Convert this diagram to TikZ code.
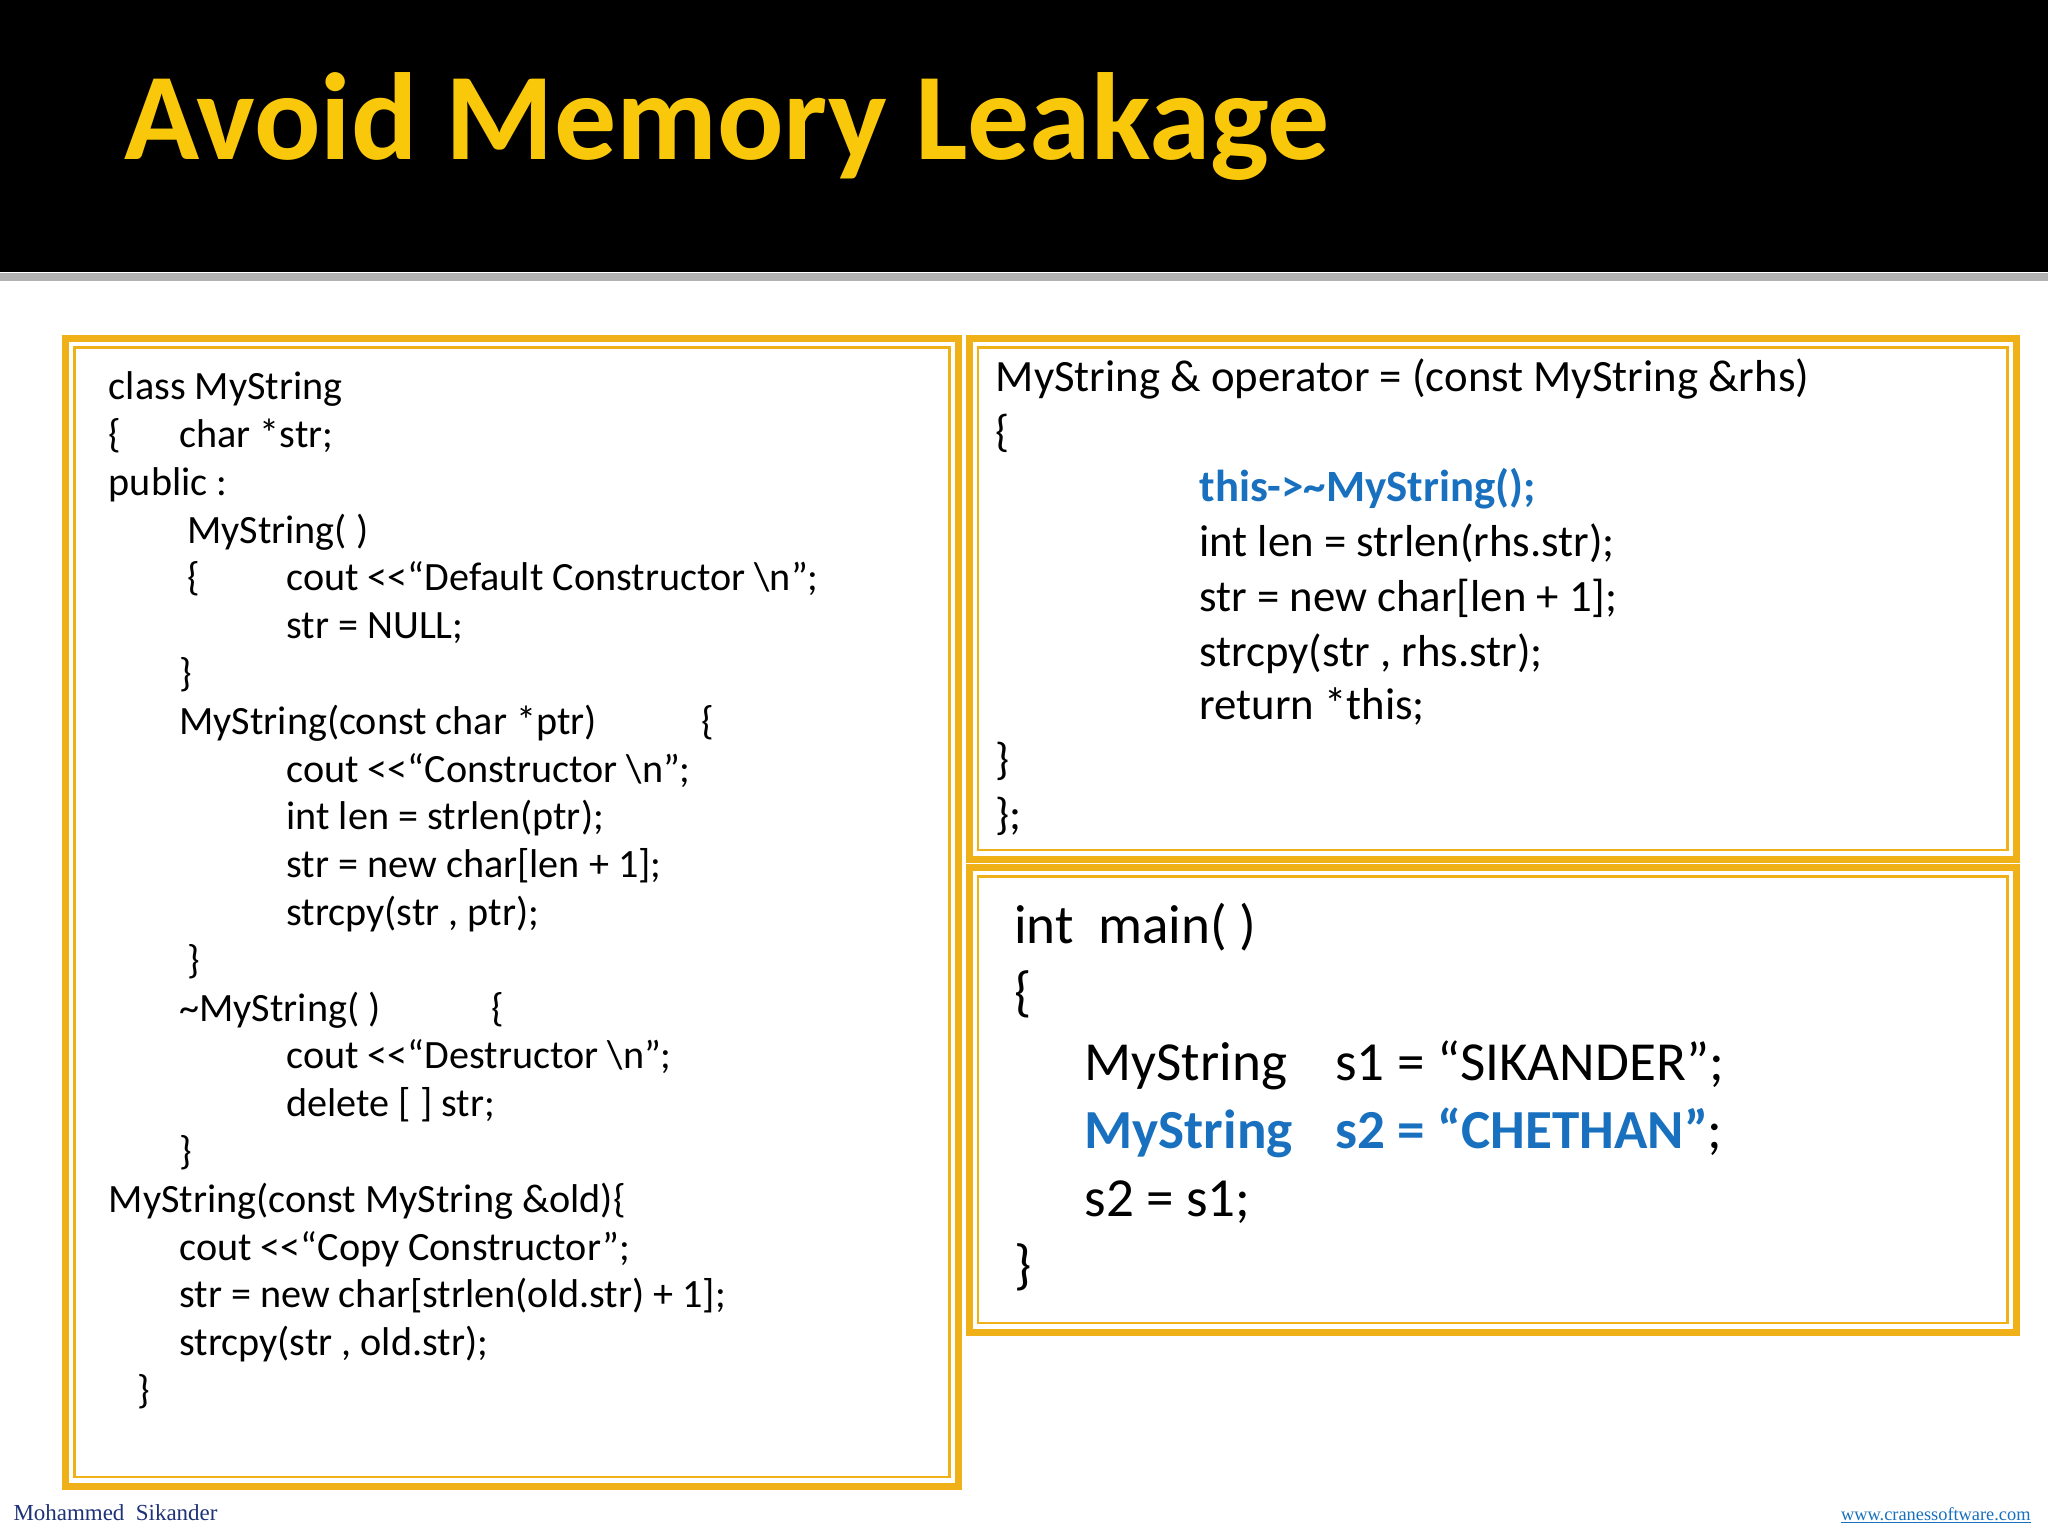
\documentclass[tikz,border=0pt]{standalone}
\usepackage{fontspec}
\setmainfont{Carlito}
\definecolor{gold}{RGB}{240,176,24}
\definecolor{ttl}{RGB}{250,200,10}
\definecolor{hl}{RGB}{24,112,190}
\definecolor{foot}{RGB}{30,50,120}
\begin{document}
\begin{tikzpicture}[x=0.2mm,y=-0.2mm,
  codeL/.style={anchor=base west,inner sep=0,font=\fontsize{17.5}{20}\selectfont},
  codeR/.style={anchor=base west,inner sep=0,font=\fontsize{19.5}{22}\selectfont},
  codeM/.style={anchor=base west,inner sep=0,font=\fontsize{24}{28}\selectfont},
  outerfr/.style={draw=gold,line width=3pt},
  innerfr/.style={draw=gold,line width=1pt}]
\useasboundingbox (0,0) rectangle (1568,1176);
\fill[black] (0,0) rectangle (1568,208);
\fill[gray!60] (0,209) rectangle (1568,215);
\node[anchor=base west,inner sep=0,text=ttl,font=\fontsize{54}{60}\selectfont\bfseries] (title) at (95,122) {Avoid Memory Leakage};
% frames
\draw[outerfr] (50,259) rectangle (734,1138);
\draw[innerfr] (57,266) rectangle (727,1131);
\draw[outerfr] (742,259) rectangle (1544,658);
\draw[innerfr] (749,266) rectangle (1537,651);
\draw[outerfr] (742,664) rectangle (1544,1020);
\draw[innerfr] (749,671) rectangle (1537,1013);
% left code
\node[codeL] (a1) at (83,306) {class MyString};
\node[codeL] (a2) at (83,342.6) {\{};
\node[codeL] (a2b) at (137,342.6) {char *str;};
\node[codeL] (a3) at (83,379.2) {public :};
\node[codeL] (a4) at (143,415.8) {MyString( )};
\node[codeL] (a5) at (143,452.4) {\{};
\node[codeL] (a5b) at (219,452.4) {cout <{}<“Default Constructor \textbackslash n”;};
\node[codeL] (a6) at (219,489) {str = NULL;};
\node[codeL] (a7) at (137,525.6) {\}};
\node[codeL] (a8) at (137,562.2) {MyString(const char *ptr)};
\node[codeL] (a8b) at (537,562.2) {\{};
\node[codeL] (a9) at (219,598.8) {cout <{}<“Constructor \textbackslash n”;};
\node[codeL] (a10) at (219,635.4) {int len = strlen(ptr);};
\node[codeL] (a11) at (219,672) {str = new char[len + 1];};
\node[codeL] (a12) at (219,708.6) {strcpy(str , ptr);};
\node[codeL] (a13) at (143,745.2) {\}};
\node[codeL] (a14) at (137,781.8) {\textasciitilde MyString( )};
\node[codeL] (a14b) at (376,781.8) {\{};
\node[codeL] (a15) at (219,818.4) {cout <{}<“Destructor \textbackslash n”;};
\node[codeL] (a16) at (219,855) {delete [ ] str;};
\node[codeL] (a17) at (137,891.6) {\}};
\node[codeL] (a18) at (83,928.2) {MyString(const MyString \&old)\{};
\node[codeL] (a19) at (137,964.8) {cout <{}<“Copy Constructor”;};
\node[codeL] (a20) at (137,1001.4) {str = new char[strlen(old.str) + 1];};
\node[codeL] (a21) at (137,1038) {strcpy(str , old.str);};
\node[codeL] (a22) at (105,1074.6) {\}};
% right top
\node[codeR] (b1) at (762,300) {MyString \& operator = (const MyString \&rhs)};
\node[codeR] (b2) at (762,342) {\{};
\node[codeR,text=hl,font=\fontsize{19.5}{22}\selectfont\bfseries] (b3) at (918,384) {this->\textasciitilde MyString();};
\node[codeR] (b4) at (918,426) {int len = strlen(rhs.str);};
\node[codeR] (b5) at (918,468) {str = new char[len + 1];};
\node[codeR] (b6) at (918,510) {strcpy(str , rhs.str);};
\node[codeR] (b7) at (918,551) {return *this;};
\node[codeR] (b8) at (762,593) {\}};
\node[codeR] (b9) at (762,635) {\};};
% main
\node[codeM] (c1) at (776,722) {int\ \ main( )};
\node[codeM] (c2) at (776,774) {\{};
\node[codeM] (c3) at (830,827) {MyString};
\node[codeM] (c3b) at (1022,827) {s1 = “SIKANDER”;};
\node[codeM,text=hl,font=\fontsize{24}{28}\selectfont\bfseries] (c4) at (830,879) {MyString};
\node[codeM] (c4b) at (1022,879) {\textcolor{hl}{\bfseries s2 = “CHETHAN”};};
\node[codeM] (c5) at (830,931) {s2 = s1;};
\node[codeM] (c6) at (776,983) {\}};
% footer
\node[anchor=base west,inner sep=0,text=foot,font=\fontspec{Liberation Serif}\fontsize{10}{12}\selectfont] (f1) at (10,1164) {Mohammed\ \ Sikander};
\node[anchor=base east,inner sep=0,text=hl,font=\fontspec{Liberation Serif}\fontsize{8}{10}\selectfont] (f2) at (1555,1164) {www.cranessoftware.com};
\draw[hl,line width=0.4pt] (f2.south west)++(0,1) -- ([yshift=-0.2mm]f2.south east);
\end{tikzpicture}
\end{document}
